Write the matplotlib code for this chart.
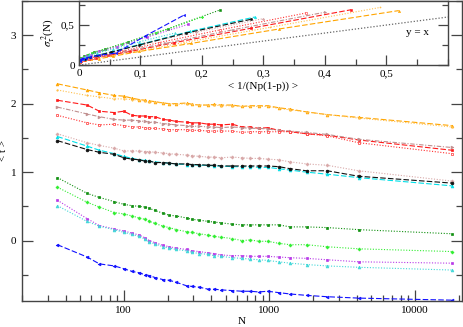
import matplotlib
matplotlib.use("Agg")
import matplotlib.pyplot as plt
import numpy as np
from matplotlib.ticker import FixedLocator, MultipleLocator, NullFormatter

plt.rcParams['font.family'] = ['Liberation Serif', 'DejaVu Serif']
plt.rcParams['mathtext.fontset'] = 'stix'

# system sizes
N = [35, 56, 68, 86, 100, 114, 128, 140, 150, 164, 186, 206, 230, 270, 295,
     330, 380, 420, 465, 555, 650, 740, 845, 975, 1160, 1390, 1800, 2500, 4100, 17900]

# <t> for each series (main panel)
t_orange_dash = [2.29, 2.20, 2.16, 2.12, 2.11, 2.08, 2.06, 2.05, 2.04, 2.03, 2.01, 2.00, 2.00, 2.01, 1.99,
                 1.98, 1.98, 1.99, 1.98, 1.98, 1.96, 1.97, 1.97, 1.97, 1.94, 1.92, 1.88, 1.84, 1.80, 1.68]
t_orange_dot = [2.20, 2.12, 2.10, 2.07, 2.07, 2.06, 2.05, 2.04, 2.03, 2.02, 2.01, 2.00, 1.99, 2.00, 1.99,
                1.98, 1.98, 1.98, 1.97, 1.97, 1.96, 1.96, 1.96, 1.96, 1.93, 1.91, 1.88, 1.84, 1.79, 1.66]
t_red_dash = [2.05, 1.98, 1.89, 1.87, 1.89, 1.83, 1.82, 1.82, 1.81, 1.81, 1.77, 1.76, 1.74, 1.73, 1.72,
              1.72, 1.70, 1.70, 1.69, 1.70, 1.66, 1.66, 1.64, 1.65, 1.61, 1.59, 1.56, 1.54, 1.47, 1.32]
t_brown_dash = [1.95, 1.85, 1.81, 1.77, 1.76, 1.76, 1.75, 1.74, 1.73, 1.73, 1.71, 1.70, 1.69, 1.68, 1.67,
                1.67, 1.66, 1.66, 1.65, 1.66, 1.65, 1.64, 1.64, 1.63, 1.61, 1.60, 1.58, 1.55, 1.48, 1.36]
t_red_dot = [1.83, 1.72, 1.69, 1.70, 1.68, 1.66, 1.66, 1.65, 1.64, 1.64, 1.63, 1.62, 1.62, 1.62, 1.61,
             1.61, 1.60, 1.60, 1.60, 1.60, 1.58, 1.59, 1.59, 1.59, 1.59, 1.59, 1.56, 1.53, 1.43, 1.27]
t_brown_dot = [1.56, 1.43, 1.39, 1.35, 1.31, 1.31, 1.31, 1.30, 1.30, 1.29, 1.28, 1.27, 1.26, 1.25, 1.24,
               1.23, 1.22, 1.22, 1.21, 1.22, 1.21, 1.20, 1.20, 1.19, 1.18, 1.15, 1.12, 1.10, 1.02, 0.87]
t_cyan_dash = [1.52, 1.38, 1.32, 1.27, 1.23, 1.20, 1.18, 1.17, 1.16, 1.15, 1.14, 1.13, 1.12, 1.11, 1.11,
               1.10, 1.10, 1.09, 1.09, 1.08, 1.08, 1.08, 1.07, 1.07, 1.05, 1.03, 1.00, 0.97, 0.92, 0.80]
t_black = [1.46, 1.33, 1.29, 1.26, 1.21, 1.19, 1.18, 1.16, 1.16, 1.14, 1.14, 1.13, 1.12, 1.12, 1.11,
           1.11, 1.10, 1.10, 1.09, 1.09, 1.09, 1.09, 1.09, 1.09, 1.08, 1.05, 1.02, 1.02, 0.94, 0.84]
t_dkgreen = [0.92, 0.69, 0.63, 0.57, 0.53, 0.51, 0.50, 0.49, 0.47, 0.44, 0.40, 0.37, 0.36, 0.33, 0.31,
             0.30, 0.28, 0.27, 0.26, 0.24, 0.23, 0.23, 0.23, 0.23, 0.23, 0.20, 0.20, 0.19, 0.16, 0.10]
t_lime = [0.78, 0.56, 0.49, 0.41, 0.39, 0.36, 0.33, 0.31, 0.28, 0.25, 0.21, 0.19, 0.16, 0.13, 0.12,
          0.10, 0.08, 0.06, 0.05, 0.03, 0.00, 0.01, -0.01, -0.01, -0.04, -0.06, -0.06, -0.09, -0.12, -0.16]
t_purple = [0.59, 0.32, 0.22, 0.17, 0.14, 0.11, 0.08, 0.04, 0.00, -0.03, -0.07, -0.09, -0.11, -0.13, -0.15,
            -0.16, -0.18, -0.19, -0.21, -0.22, -0.22, -0.23, -0.23, -0.23, -0.24, -0.25, -0.26, -0.28, -0.31, -0.33]
t_cyan_dot = [0.51, 0.28, 0.21, 0.16, 0.12, 0.09, 0.06, 0.02, -0.02, -0.05, -0.09, -0.11, -0.13, -0.15, -0.17,
              -0.19, -0.20, -0.22, -0.23, -0.25, -0.26, -0.27, -0.28, -0.29, -0.31, -0.33, -0.35, -0.37, -0.39, -0.43]
t_blue = [-0.06, -0.24, -0.34, -0.37, -0.41, -0.45, -0.47, -0.50, -0.51, -0.54, -0.57, -0.58, -0.61, -0.66, -0.67,
          -0.68, -0.71, -0.71, -0.72, -0.73, -0.74, -0.74, -0.75, -0.74, -0.76, -0.78, -0.80, -0.82, -0.84, -0.87]

# inset: <1/(Np(1-p))> and sigma^2
x_orange_dash = [0.001, 0.004, 0.010, 0.019, 0.033, 0.055, 0.098, 0.182, 0.325, 0.52]
s_orange_dash = [0.04, 0.05, 0.06, 0.07, 0.08, 0.11, 0.17, 0.27, 0.45, 0.68]
x_orange_dot = [0.001, 0.004, 0.009, 0.018, 0.031, 0.052, 0.092, 0.17, 0.31, 0.49]
s_orange_dot = [0.04, 0.05, 0.06, 0.07, 0.09, 0.12, 0.17, 0.28, 0.47, 0.72]
x_red_dash = [0.001, 0.004, 0.008, 0.016, 0.028, 0.047, 0.083, 0.155, 0.28, 0.442]
s_red_dash = [0.04, 0.05, 0.06, 0.07, 0.09, 0.12, 0.17, 0.28, 0.46, 0.69]
x_brown_dash = [0.001, 0.003, 0.008, 0.015, 0.025, 0.042, 0.075, 0.14, 0.25, 0.40]
s_brown_dash = [0.04, 0.05, 0.06, 0.07, 0.09, 0.12, 0.17, 0.27, 0.44, 0.66]
x_red_dot = [0.001, 0.003, 0.007, 0.013, 0.023, 0.039, 0.069, 0.13, 0.23, 0.369]
s_red_dot = [0.04, 0.05, 0.06, 0.07, 0.09, 0.12, 0.17, 0.28, 0.44, 0.65]
x_brown_dot = [0.001, 0.003, 0.006, 0.011, 0.019, 0.032, 0.056, 0.105, 0.19, 0.30]
s_brown_dot = [0.05, 0.06, 0.07, 0.08, 0.10, 0.13, 0.17, 0.27, 0.41, 0.58]
x_cyan_dash = [0.001, 0.002, 0.005, 0.010, 0.018, 0.030, 0.054, 0.10, 0.18, 0.286]
s_cyan_dash = [0.05, 0.06, 0.07, 0.08, 0.10, 0.12, 0.17, 0.26, 0.42, 0.60]
x_black = [0.001, 0.002, 0.005, 0.010, 0.018, 0.030, 0.052, 0.098, 0.174, 0.279]
s_black = [0.05, 0.06, 0.07, 0.08, 0.10, 0.12, 0.16, 0.25, 0.40, 0.57]
x_dkgreen = [0.001, 0.002, 0.004, 0.008, 0.015, 0.024, 0.043, 0.08, 0.144, 0.23]
s_dkgreen = [0.06, 0.07, 0.09, 0.11, 0.13, 0.16, 0.20, 0.29, 0.45, 0.69]
x_lime = [0.001, 0.002, 0.004, 0.007, 0.013, 0.021, 0.038, 0.07, 0.125, 0.20]
s_lime = [0.06, 0.07, 0.09, 0.10, 0.12, 0.15, 0.19, 0.26, 0.40, 0.60]
x_purple = [0.001, 0.002, 0.003, 0.006, 0.011, 0.019, 0.033, 0.062, 0.111, 0.178]
s_purple = [0.05, 0.06, 0.07, 0.09, 0.11, 0.13, 0.17, 0.23, 0.35, 0.51]
x_cyan_dot = [0.001, 0.001, 0.003, 0.006, 0.010, 0.017, 0.029, 0.055, 0.098, 0.156]
s_cyan_dot = [0.05, 0.06, 0.07, 0.08, 0.10, 0.12, 0.15, 0.20, 0.29, 0.40]
x_blue = [0.001, 0.002, 0.003, 0.006, 0.011, 0.018, 0.032, 0.06, 0.107, 0.171]
s_blue = [0.05, 0.06, 0.07, 0.08, 0.09, 0.10, 0.12, 0.15, 0.36, 0.625]
x_diag = [0.0, 0.6]

# (main y, inset x, inset y, colour, linestyle, marker, filled)
series = [
    (t_orange_dash, x_orange_dash, s_orange_dash, '#ffa500', (0, (5, 2)), '^', True),
    (t_orange_dot, x_orange_dot, s_orange_dot, '#ffc04d', (0, (1, 1.5)), '.', True),
    (t_red_dash, x_red_dash, s_red_dash, '#ff1a1a', (0, (5, 2)), 's', True),
    (t_brown_dash, x_brown_dash, s_brown_dash, '#c08f8f', (0, (4, 1.5, 1, 1.5)), '>', True),
    (t_red_dot, x_red_dot, s_red_dot, '#ff3030', (0, (1, 1.5)), 's', False),
    (t_brown_dot, x_brown_dot, s_brown_dot, '#d8a8a8', (0, (1, 1.5)), 'P', True),
    (t_cyan_dash, x_cyan_dash, s_cyan_dash, '#00e0e8', (0, (5, 2)), '^', True),
    (t_black, x_black, s_black, '#111111', (0, (5, 2)), 'o', True),
    (t_dkgreen, x_dkgreen, s_dkgreen, '#109010', (0, (1, 1.5)), 's', True),
    (t_lime, x_lime, s_lime, '#30ee30', (0, (1, 1.5)), 'P', True),
    (t_purple, x_purple, s_purple, '#b83ae8', (0, (1, 1.5)), 's', True),
    (t_cyan_dot, x_cyan_dot, s_cyan_dot, '#40d8d8', (0, (1, 1.5)), '^', True),
    (t_blue, x_blue, s_blue, '#1010ff', (0, (5, 2)), '<', True),
]

fig = plt.figure(figsize=(4.63, 3.27), dpi=100)
ax = fig.add_axes([0.0475, 0.080, 0.950, 0.917])

for t, xi, si, c, ls, m, filled in series:
    ax.plot(N, t, color=c, ls=ls, lw=0.8, marker=m, ms=2.0, mew=0.5,
            mfc=c if filled else 'white', mec=c)

ax.set_xscale('log')
ax.set_xlim(20, 21000)
ax.set_ylim(-0.88, 3.5)
ax.xaxis.set_major_locator(FixedLocator([100, 1000, 10000]))
ax.set_xticklabels(['100', '1000', '10000'])
ax.xaxis.set_minor_locator(FixedLocator([k * 10**e for e in (1, 2, 3, 4) for k in range(2, 10)]))
ax.xaxis.set_minor_formatter(NullFormatter())
ax.yaxis.set_major_locator(MultipleLocator(1))
ax.yaxis.set_minor_locator(MultipleLocator(0.5))
ax.tick_params(which='both', direction='in', right=True, top=False, labelsize=8, color='#444444')
ax.tick_params(which='major', length=8, width=0.9, pad=4)
ax.tick_params(which='minor', length=4, width=0.9)
for sp in ax.spines.values():
    sp.set_color('#444444')
    sp.set_linewidth(1.0)
ax.set_xlabel('N', fontsize=8, labelpad=1)
ax.set_ylabel('< t >', fontsize=8, labelpad=2)

# inset
axi = fig.add_axes([0.1706, 0.801, 0.797, 0.196])
for t, xi, si, c, ls, m, filled in series:
    axi.plot(xi, si, color=c, ls=ls, lw=0.8, marker=m, ms=1.6, mew=0.4,
             mfc=c if filled else 'white', mec=c)
axi.plot(x_diag, x_diag, color='#666666', ls=(0, (1, 1.5)), lw=0.9)
axi.text(0.55, 0.41, 'y = x', fontsize=8, ha='center', va='center')
axi.set_xlim(0, 0.6)
axi.set_ylim(0, 0.8)
axi.set_xticks([0, 0.1, 0.2, 0.3, 0.4, 0.5])
axi.set_xticklabels(['0', '0,1', '0,2', '0,3', '0,4', '0,5'])
axi.xaxis.set_minor_locator(MultipleLocator(0.05))
axi.set_yticks([0, 0.5])
axi.set_yticklabels(['0', '0,5'])
axi.yaxis.set_minor_locator(MultipleLocator(0.25))
axi.tick_params(which='both', direction='in', right=True, labelsize=8, color='#444444')
axi.tick_params(which='major', length=7, width=0.9, pad=3)
axi.tick_params(which='minor', length=4, width=0.9)
for sp in axi.spines.values():
    sp.set_color('#444444')
    sp.set_linewidth(1.0)
axi.set_xlabel('< 1/(Np(1-p)) >', fontsize=8, labelpad=2)
axi.set_ylabel(r'$\sigma_\tau^{\,2}$(N)', fontsize=8, labelpad=2)

fig.savefig('out.png', dpi=100)
